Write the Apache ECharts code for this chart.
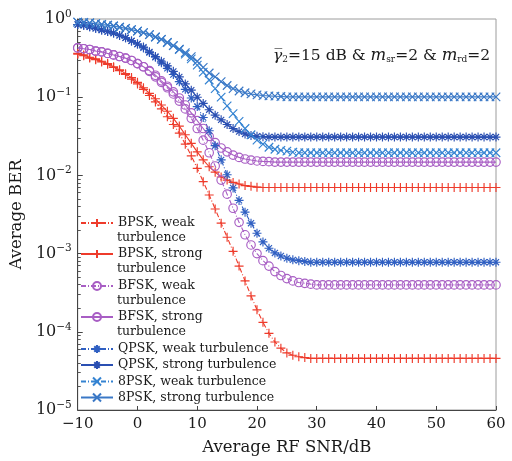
<!DOCTYPE html>
<html>
<head>
<meta charset="utf-8">
<script src="https://cdn.jsdelivr.net/npm/echarts@6/dist/echarts.min.js"></script>
<style>
  html, body { margin: 0; padding: 0; background: #ffffff; }
  #chart { width: 512px; height: 461px; }
</style>
</head>
<body>
<div id="chart"></div>
<script>
// Average RF SNR (dB) sample points
const snr = [
  -10, -9, -8, -7, -6, -5, -4, -3, -2, -1,
  0, 1, 2, 3, 4, 5, 6, 7, 8, 9,
  10, 11, 12, 13, 14, 15, 16, 17, 18, 19,
  20, 21, 22, 23, 24, 25, 26, 27, 28, 29,
  30, 31, 32, 33, 34, 35, 36, 37, 38, 39,
  40, 41, 42, 43, 44, 45, 46, 47, 48, 49,
  50, 51, 52, 53, 54, 55, 56, 57, 58, 59,
  60
];

// Average BER per modulation / turbulence regime
const bpskWeak = [
  3.55e-1, 3.39e-1, 3.16e-1, 3.02e-1, 2.82e-1, 2.63e-1, 2.40e-1, 2.19e-1, 1.95e-1, 1.70e-1,
  1.48e-1, 1.26e-1, 1.05e-1, 8.71e-2, 7.08e-2, 5.62e-2, 4.47e-2, 3.47e-2, 2.51e-2, 1.78e-2,
  1.23e-2, 8.32e-3, 5.62e-3, 3.72e-3, 2.45e-3, 1.62e-3, 1.07e-3, 6.92e-4, 4.47e-4, 2.88e-4,
  1.91e-4, 1.32e-4, 9.55e-5, 7.41e-5, 6.17e-5, 5.37e-5, 5.01e-5, 4.79e-5, 4.68e-5, 4.57e-5,
  4.57e-5, 4.57e-5, 4.57e-5, 4.57e-5, 4.57e-5, 4.57e-5, 4.57e-5, 4.57e-5, 4.57e-5, 4.57e-5,
  4.57e-5, 4.57e-5, 4.57e-5, 4.57e-5, 4.57e-5, 4.57e-5, 4.57e-5, 4.57e-5, 4.57e-5, 4.57e-5,
  4.57e-5, 4.57e-5, 4.57e-5, 4.57e-5, 4.57e-5, 4.57e-5, 4.57e-5, 4.57e-5, 4.57e-5, 4.57e-5,
  4.57e-5
];
const bpskStrong = [
  3.63e-1, 3.47e-1, 3.24e-1, 3.09e-1, 2.88e-1, 2.69e-1, 2.45e-1, 2.24e-1, 2.00e-1, 1.78e-1,
  1.55e-1, 1.32e-1, 1.12e-1, 9.55e-2, 7.94e-2, 6.61e-2, 5.37e-2, 4.27e-2, 3.31e-2, 2.57e-2,
  2.00e-2, 1.58e-2, 1.29e-2, 1.10e-2, 9.55e-3, 8.71e-3, 8.13e-3, 7.76e-3, 7.41e-3, 7.24e-3,
  7.08e-3, 7.00e-3, 7.00e-3, 7.00e-3, 7.00e-3, 7.00e-3, 7.00e-3, 7.00e-3, 7.00e-3, 7.00e-3,
  7.00e-3, 7.00e-3, 7.00e-3, 7.00e-3, 7.00e-3, 7.00e-3, 7.00e-3, 7.00e-3, 7.00e-3, 7.00e-3,
  7.00e-3, 7.00e-3, 7.00e-3, 7.00e-3, 7.00e-3, 7.00e-3, 7.00e-3, 7.00e-3, 7.00e-3, 7.00e-3,
  7.00e-3, 7.00e-3, 7.00e-3, 7.00e-3, 7.00e-3, 7.00e-3, 7.00e-3, 7.00e-3, 7.00e-3, 7.00e-3,
  7.00e-3
];
const bfskWeak = [
  4.27e-1, 4.17e-1, 4.07e-1, 3.89e-1, 3.80e-1, 3.63e-1, 3.47e-1, 3.31e-1, 3.16e-1, 2.95e-1,
  2.69e-1, 2.45e-1, 2.14e-1, 1.82e-1, 1.55e-1, 1.32e-1, 1.10e-1, 8.91e-2, 7.08e-2, 5.37e-2,
  3.98e-2, 2.82e-2, 1.95e-2, 1.32e-2, 8.71e-3, 5.75e-3, 3.80e-3, 2.51e-3, 1.74e-3, 1.29e-3,
  1.00e-3, 8.13e-4, 6.92e-4, 5.89e-4, 5.25e-4, 4.79e-4, 4.47e-4, 4.27e-4, 4.17e-4, 4.07e-4,
  3.98e-4, 3.98e-4, 3.98e-4, 3.98e-4, 3.98e-4, 3.98e-4, 3.98e-4, 3.98e-4, 3.98e-4, 3.98e-4,
  3.98e-4, 3.98e-4, 3.98e-4, 3.98e-4, 3.98e-4, 3.98e-4, 3.98e-4, 3.98e-4, 3.98e-4, 3.98e-4,
  3.98e-4, 3.98e-4, 3.98e-4, 3.98e-4, 3.98e-4, 3.98e-4, 3.98e-4, 3.98e-4, 3.98e-4, 3.98e-4,
  3.98e-4
];
const bfskStrong = [
  4.27e-1, 4.17e-1, 4.07e-1, 3.89e-1, 3.80e-1, 3.63e-1, 3.47e-1, 3.31e-1, 3.16e-1, 2.95e-1,
  2.69e-1, 2.45e-1, 2.19e-1, 1.91e-1, 1.62e-1, 1.38e-1, 1.17e-1, 9.77e-2, 7.94e-2, 6.31e-2,
  5.01e-2, 3.98e-2, 3.16e-2, 2.63e-2, 2.24e-2, 2.00e-2, 1.82e-2, 1.70e-2, 1.62e-2, 1.57e-2,
  1.53e-2, 1.51e-2, 1.50e-2, 1.48e-2, 1.48e-2, 1.48e-2, 1.48e-2, 1.48e-2, 1.48e-2, 1.48e-2,
  1.48e-2, 1.48e-2, 1.48e-2, 1.48e-2, 1.48e-2, 1.48e-2, 1.48e-2, 1.48e-2, 1.48e-2, 1.48e-2,
  1.48e-2, 1.48e-2, 1.48e-2, 1.48e-2, 1.48e-2, 1.48e-2, 1.48e-2, 1.48e-2, 1.48e-2, 1.48e-2,
  1.48e-2, 1.48e-2, 1.48e-2, 1.48e-2, 1.48e-2, 1.48e-2, 1.48e-2, 1.48e-2, 1.48e-2, 1.48e-2,
  1.48e-2
];
const qpskWeak = [
  8.51e-1, 8.32e-1, 7.94e-1, 7.59e-1, 7.24e-1, 6.92e-1, 6.61e-1, 6.17e-1, 5.75e-1, 5.25e-1,
  4.79e-1, 4.27e-1, 3.72e-1, 3.24e-1, 2.75e-1, 2.34e-1, 1.95e-1, 1.58e-1, 1.26e-1, 9.77e-2,
  7.59e-2, 5.50e-2, 3.72e-2, 2.40e-2, 1.58e-2, 1.02e-2, 6.92e-3, 4.79e-3, 3.39e-3, 2.45e-3,
  1.82e-3, 1.41e-3, 1.17e-3, 1.02e-3, 9.33e-4, 8.71e-4, 8.32e-4, 8.13e-4, 7.94e-4, 7.76e-4,
  7.76e-4, 7.76e-4, 7.76e-4, 7.76e-4, 7.76e-4, 7.76e-4, 7.76e-4, 7.76e-4, 7.76e-4, 7.76e-4,
  7.76e-4, 7.76e-4, 7.76e-4, 7.76e-4, 7.76e-4, 7.76e-4, 7.76e-4, 7.76e-4, 7.76e-4, 7.76e-4,
  7.76e-4, 7.76e-4, 7.76e-4, 7.76e-4, 7.76e-4, 7.76e-4, 7.76e-4, 7.76e-4, 7.76e-4, 7.76e-4,
  7.76e-4
];
const qpskStrong = [
  8.51e-1, 8.32e-1, 7.94e-1, 7.59e-1, 7.24e-1, 6.92e-1, 6.61e-1, 6.17e-1, 5.75e-1, 5.25e-1,
  4.79e-1, 4.37e-1, 3.80e-1, 3.31e-1, 2.88e-1, 2.51e-1, 2.14e-1, 1.82e-1, 1.48e-1, 1.23e-1,
  1.00e-1, 8.32e-2, 6.92e-2, 5.89e-2, 5.13e-2, 4.47e-2, 3.98e-2, 3.63e-2, 3.39e-2, 3.24e-2,
  3.16e-2, 3.13e-2, 3.09e-2, 3.09e-2, 3.09e-2, 3.09e-2, 3.09e-2, 3.09e-2, 3.09e-2, 3.09e-2,
  3.09e-2, 3.09e-2, 3.09e-2, 3.09e-2, 3.09e-2, 3.09e-2, 3.09e-2, 3.09e-2, 3.09e-2, 3.09e-2,
  3.09e-2, 3.09e-2, 3.09e-2, 3.09e-2, 3.09e-2, 3.09e-2, 3.09e-2, 3.09e-2, 3.09e-2, 3.09e-2,
  3.09e-2, 3.09e-2, 3.09e-2, 3.09e-2, 3.09e-2, 3.09e-2, 3.09e-2, 3.09e-2, 3.09e-2, 3.09e-2,
  3.09e-2
];
const psk8Weak = [
  9.12e-1, 9.02e-1, 8.91e-1, 8.71e-1, 8.51e-1, 8.32e-1, 8.13e-1, 7.85e-1, 7.59e-1, 7.33e-1,
  7.00e-1, 6.68e-1, 6.31e-1, 5.89e-1, 5.50e-1, 5.01e-1, 4.57e-1, 4.07e-1, 3.55e-1, 3.09e-1,
  2.57e-1, 2.09e-1, 1.66e-1, 1.29e-1, 1.00e-1, 7.76e-2, 6.17e-2, 4.90e-2, 3.98e-2, 3.31e-2,
  2.82e-2, 2.51e-2, 2.29e-2, 2.16e-2, 2.09e-2, 2.04e-2, 1.98e-2, 1.95e-2, 1.95e-2, 1.95e-2,
  1.95e-2, 1.95e-2, 1.95e-2, 1.95e-2, 1.95e-2, 1.95e-2, 1.95e-2, 1.95e-2, 1.95e-2, 1.95e-2,
  1.95e-2, 1.95e-2, 1.95e-2, 1.95e-2, 1.95e-2, 1.95e-2, 1.95e-2, 1.95e-2, 1.95e-2, 1.95e-2,
  1.95e-2, 1.95e-2, 1.95e-2, 1.95e-2, 1.95e-2, 1.95e-2, 1.95e-2, 1.95e-2, 1.95e-2, 1.95e-2,
  1.95e-2
];
const psk8Strong = [
  9.12e-1, 9.02e-1, 8.91e-1, 8.71e-1, 8.51e-1, 8.32e-1, 8.13e-1, 7.85e-1, 7.59e-1, 7.33e-1,
  7.00e-1, 6.68e-1, 6.31e-1, 5.89e-1, 5.50e-1, 5.01e-1, 4.57e-1, 4.12e-1, 3.72e-1, 3.31e-1,
  2.88e-1, 2.40e-1, 2.04e-1, 1.82e-1, 1.58e-1, 1.41e-1, 1.29e-1, 1.20e-1, 1.14e-1, 1.10e-1,
  1.07e-1, 1.05e-1, 1.04e-1, 1.03e-1, 1.02e-1, 1.01e-1, 1.01e-1, 1.01e-1, 1.01e-1, 1.01e-1,
  1.01e-1, 1.01e-1, 1.01e-1, 1.01e-1, 1.01e-1, 1.01e-1, 1.01e-1, 1.01e-1, 1.01e-1, 1.01e-1,
  1.01e-1, 1.01e-1, 1.01e-1, 1.01e-1, 1.01e-1, 1.01e-1, 1.01e-1, 1.01e-1, 1.01e-1, 1.01e-1,
  1.01e-1, 1.01e-1, 1.01e-1, 1.01e-1, 1.01e-1, 1.01e-1, 1.01e-1, 1.01e-1, 1.01e-1, 1.01e-1,
  1.01e-1
];

const xTicks = [-10, 0, 10, 20, 30, 40, 50, 60];

const SERIF = '"DejaVu Serif", "Liberation Serif", serif';
const INK = '#1a1a1a';

// Stroke-only marker shapes
const SYM_PLUS = 'path://M0,5L10,5M5,0L5,10';
const SYM_CROSS = 'path://M1,1L9,9M9,1L1,9';
const SYM_STAR = 'path://M5,0L5,10M0,5L10,5M1.6,1.6L8.4,8.4M8.4,1.6L1.6,8.4';
const DASH_DOT = [5, 2, 1, 2];

const curves = [
  { name: 'BPSK, weak turbulence',   values: bpskWeak,   color: '#ee3b2b', symbol: SYM_PLUS,  size: 9,   dashed: true,  wrap: true },
  { name: 'BPSK, strong turbulence', values: bpskStrong, color: '#ee3b2b', symbol: SYM_PLUS,  size: 9,   dashed: false, wrap: true },
  { name: 'BFSK, weak turbulence',   values: bfskWeak,   color: '#a85ec4', symbol: 'circle',  size: 8.5, dashed: true,  wrap: true },
  { name: 'BFSK, strong turbulence', values: bfskStrong, color: '#a85ec4', symbol: 'circle',  size: 8.5, dashed: false, wrap: true },
  { name: 'QPSK, weak turbulence',   values: qpskWeak,   color: '#2f5fc2', symbol: SYM_STAR,  size: 9,   dashed: true,  wrap: false },
  { name: 'QPSK, strong turbulence', values: qpskStrong, color: '#2a4fb2', symbol: SYM_STAR,  size: 9,   dashed: false, wrap: false },
  { name: '8PSK, weak turbulence',   values: psk8Weak,   color: '#3483d2', symbol: SYM_CROSS, size: 8.5, dashed: true,  wrap: false },
  { name: '8PSK, strong turbulence', values: psk8Strong, color: '#3a78c6', symbol: SYM_CROSS, size: 8.5, dashed: false, wrap: false }
];

// Vertical centre of each legend entry's first text line
const legendRowY = [223, 254, 286, 317, 349, 365, 381.5, 397.5];
const LEGEND_LEFT = 80;
const ICON_W = 32;
const LINE_H = 15;

const series = curves.map(c => ({
  type: 'line',
  name: c.name,
  data: snr.map((x, i) => [x, c.values[i]]),
  symbol: c.symbol,
  symbolSize: c.size,
  symbolKeepAspect: true,
  showSymbol: true,
  lineStyle: { color: c.color, width: 1.1, type: c.dashed ? DASH_DOT : 'solid' },
  itemStyle: { color: 'rgba(255,255,255,0)', borderColor: c.color, borderWidth: 1.15 },
  emphasis: { disabled: true },
  animation: false
}));

// One legend block per entry so every row sits at its own height
const legends = curves.map((c, i) => ({
  show: true,
  orient: 'vertical',
  left: LEGEND_LEFT,
  top: legendRowY[i] - LINE_H / 2,
  padding: 0,
  itemWidth: ICON_W,
  itemHeight: 10,
  selectedMode: false,
  data: [c.name],
  formatter: name => (c.wrap ? name.replace(' turbulence', '') : name),
  textStyle: { fontFamily: SERIF, fontSize: 12.5, color: INK, lineHeight: LINE_H }
}));

// Second text line for the long two-line entries
const wrapLines = curves
  .map((c, i) => ({ c, i }))
  .filter(o => o.c.wrap)
  .map(o => ({
    type: 'text',
    x: LEGEND_LEFT + ICON_W + 5,
    y: legendRowY[o.i] + 15,
    z: 100,
    style: {
      text: 'turbulence',
      fontFamily: SERIF, fontSize: 12.5, fill: INK,
      verticalAlign: 'middle', align: 'left'
    }
  }));

const supMinus = e => (e === 0 ? '0' : '\u2212' + Math.abs(e));

// Minor tick values at 2..9 within every decade
const minorTickValues = [];
for (let p = -5; p < 0; p++) {
  for (let m = 2; m <= 9; m++) minorTickValues.push(m * Math.pow(10, p));
}

const option = {
  backgroundColor: '#ffffff',
  animation: false,
  grid: {
    left: 70, right: 16, top: 19, bottom: 49,
    show: true, borderColor: '#9c9c9c', borderWidth: 1, backgroundColor: 'transparent'
  },
  legend: legends,
  xAxis: {
    type: 'value',
    min: -10, max: 60, interval: 10,
    name: 'Average RF SNR/dB',
    nameLocation: 'middle',
    nameGap: 29,
    nameTextStyle: { fontFamily: SERIF, fontSize: 16.5, color: INK },
    axisLine: { show: true, onZero: false, lineStyle: { color: '#444', width: 1 } },
    axisTick: { show: true, inside: true, length: 4, lineStyle: { color: '#444' }, customValues: xTicks },
    axisLabel: {
      fontFamily: SERIF, fontSize: 15, color: INK, margin: 7,
      customValues: xTicks,
      formatter: v => (v < 0 ? '\u2212' + Math.abs(v) : String(v))
    },
    splitLine: { show: false }
  },
  yAxis: [
    {
      type: 'log', logBase: 10,
      min: 1e-5, max: 1,
      name: 'Average BER',
      nameLocation: 'middle',
      nameGap: 33,
      nameRotate: 90,
      nameTextStyle: { fontFamily: SERIF, fontSize: 16.5, color: INK },
      axisLine: { show: true, onZero: false, lineStyle: { color: '#444', width: 1 } },
      axisTick: { show: true, inside: true, length: 5, lineStyle: { color: '#444' } },
      axisLabel: {
        fontFamily: SERIF, fontSize: 16, color: INK, margin: 6,
        formatter: v => '10{s|' + supMinus(Math.round(Math.log10(v))) + '}',
        rich: { s: { fontFamily: SERIF, fontSize: 10.5, color: INK, padding: [0, 0, 10, 0] } }
      },
      splitLine: { show: false }
    },
    {
      type: 'log', logBase: 10,
      min: 1e-5, max: 1,
      position: 'left',
      axisLine: { show: false, onZero: false },
      axisLabel: { show: false },
      splitLine: { show: false },
      axisTick: { show: true, inside: true, length: 3, lineStyle: { color: '#555' }, customValues: minorTickValues }
    }
  ],
  graphic: [
    {
      type: 'text',
      left: 273,
      top: 47,
      z: 100,
      style: {
        text: '{g|\u03B3\u0305}{s|2}{t|=15 dB & }{m|m}{s|sr}{t|=2 & }{m|m}{s|rd}{t|=2}',
        rich: {
          g: { fontFamily: SERIF, fontSize: 15.5, fontStyle: 'italic', fill: INK },
          t: { fontFamily: SERIF, fontSize: 15.5, fill: INK },
          m: { fontFamily: SERIF, fontSize: 16.5, fontStyle: 'italic', fill: INK },
          s: { fontFamily: SERIF, fontSize: 9, fill: INK, padding: [9, 0, 0, 0] }
        }
      }
    }
  ].concat(wrapLines),
  series: series
};

const chart = echarts.init(document.getElementById('chart'), null, { renderer: 'canvas' });
chart.setOption(option);
</script>
</body>
</html>
